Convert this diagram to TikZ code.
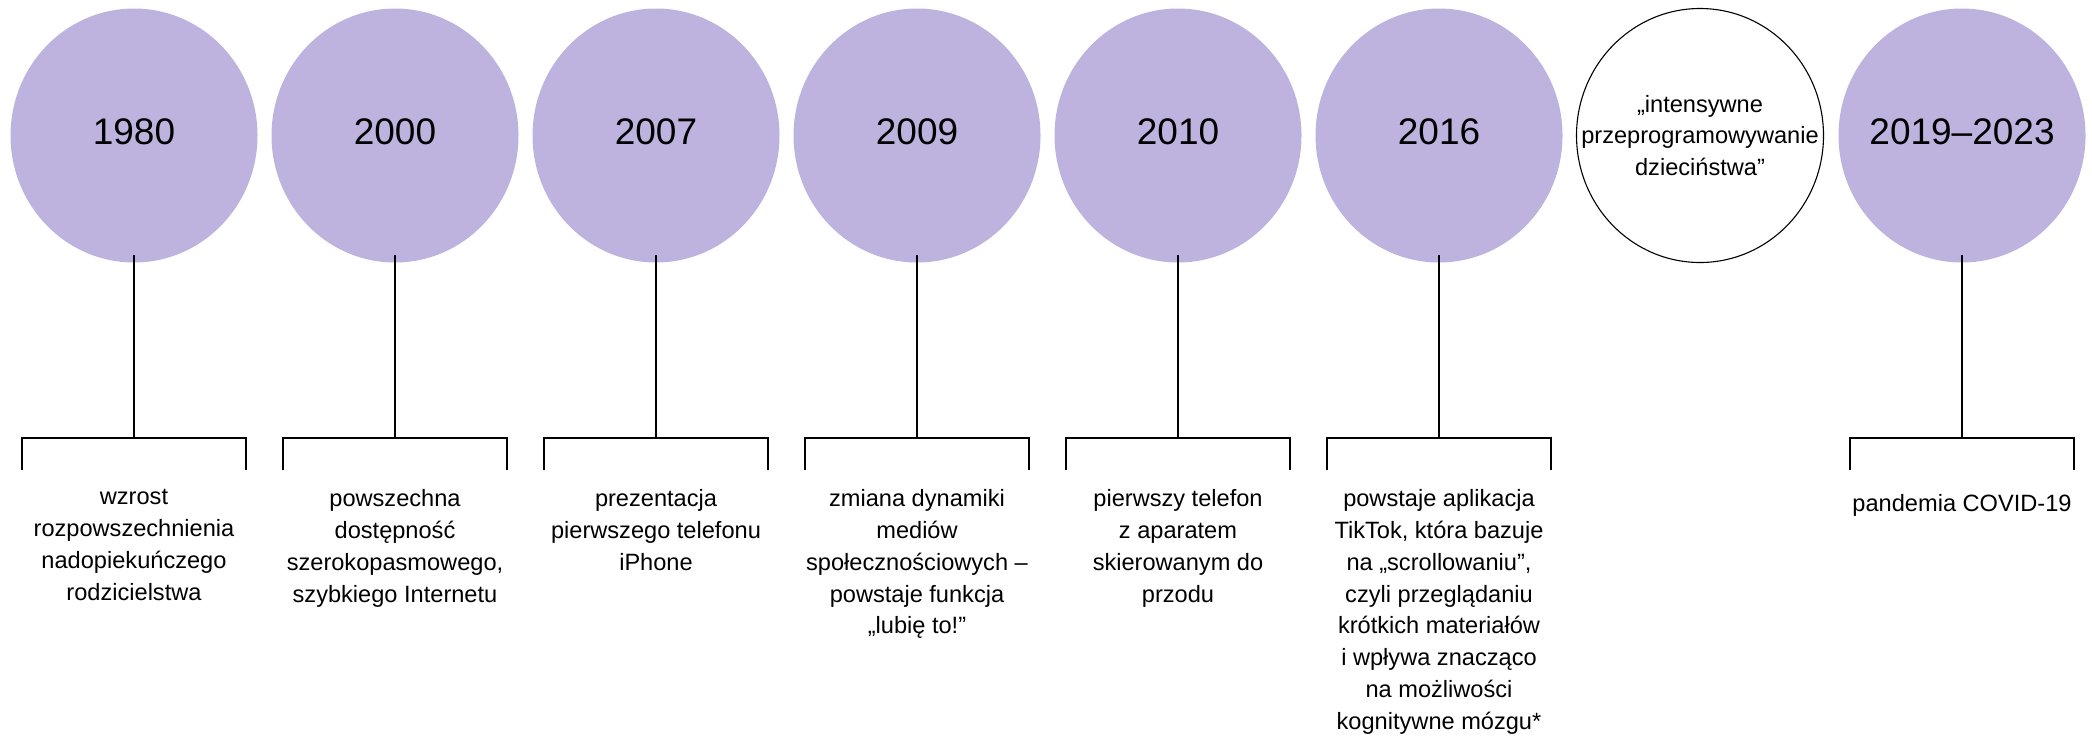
\documentclass[tikz,border=0pt]{standalone}
\usepackage{fontspec}
\setmainfont{Liberation Sans}
\usetikzlibrary{shapes.geometric}
\definecolor{lilac}{RGB}{190,179,223}

\begin{document}
\begin{tikzpicture}[x=.5pt,y=-.5pt,line width=.55pt]
\tikzstyle{every node}=[inner sep=0pt]
\tikzstyle{disc}=[ellipse,minimum width=123.5pt,minimum height=127pt,fill=lilac]
\tikzstyle{ring}=[ellipse,minimum width=123.5pt,minimum height=127pt,draw]
\tikzstyle{year}=[font=\fontsize{18.5}{22}\selectfont,yshift=2pt]
\tikzstyle{note}=[anchor=north,align=center,font=\fontsize{11.8}{15.9}\selectfont,execute at begin node=\strut]
\useasboundingbox (0,0) rectangle (2092,736);
% circles
\draw (134,135.5) node (c1) [disc] {};
\draw (395,135.5) node (c2) [disc] {};
\draw (656,135.5) node (c3) [disc] {};
\draw (917,135.5) node (c4) [disc] {};
\draw (1178,135.5) node (c5) [disc] {};
\draw (1439,135.5) node (c6) [disc] {};
\draw (1700,135.5) node (c7) [ring] {};
\draw (1962,135.5) node (c8) [disc] {};
\draw (c1) node (y1) [year] {1980};
\draw (c2) node (y2) [year] {2000};
\draw (c3) node (y3) [year] {2007};
\draw (c4) node (y4) [year] {2009};
\draw (c5) node (y5) [year] {2010};
\draw (c6) node (y6) [year] {2016};
\draw (c7) node (y7) [align=center,font=\fontsize{11.8}{15.9}\selectfont] {„intensywne\\przeprogramowywanie\\dzieciństwa”};
\draw (c8) node (y8) [year] {2019–2023};
% stems and brackets
\coordinate (k1) at (134,438);
\coordinate (k2) at (395,438);
\coordinate (k3) at (656,438);
\coordinate (k4) at (917,438);
\coordinate (k5) at (1178,438);
\coordinate (k6) at (1439,438);
\coordinate (k8) at (1962,438);
\draw ([yshift=4pt]c1.south) -- (k1);
\draw ([yshift=4pt]c2.south) -- (k2);
\draw ([yshift=4pt]c3.south) -- (k3);
\draw ([yshift=4pt]c4.south) -- (k4);
\draw ([yshift=4pt]c5.south) -- (k5);
\draw ([yshift=4pt]c6.south) -- (k6);
\draw ([yshift=4pt]c8.south) -- (k8);
\draw (k1) ++(-112,32) -- ++(0,-32) -- ++(224,0) -- ++(0,32);
\draw (k2) ++(-112,32) -- ++(0,-32) -- ++(224,0) -- ++(0,32);
\draw (k3) ++(-112,32) -- ++(0,-32) -- ++(224,0) -- ++(0,32);
\draw (k4) ++(-112,32) -- ++(0,-32) -- ++(224,0) -- ++(0,32);
\draw (k5) ++(-112,32) -- ++(0,-32) -- ++(224,0) -- ++(0,32);
\draw (k6) ++(-112,32) -- ++(0,-32) -- ++(224,0) -- ++(0,32);
\draw (k8) ++(-112,32) -- ++(0,-32) -- ++(224,0) -- ++(0,32);
% notes
\draw (134,489) node (t1) [note] {wzrost\\rozpowszechnienia\\nadopiekuńczego\\rodzicielstwa};
\draw (395,489) node (t2) [note] {powszechna\\dostępność\\szerokopasmowego,\\szybkiego Internetu};
\draw (656,489) node (t3) [note] {prezentacja\\pierwszego telefonu\\iPhone};
\draw (917,489) node (t4) [note] {zmiana dynamiki\\mediów\\społecznościowych –\\powstaje funkcja\\„lubię to!”};
\draw (1178,489) node (t5) [note] {pierwszy telefon\\z aparatem\\skierowanym do\\przodu};
\draw (1439,489) node (t6) [note] {powstaje aplikacja\\TikTok, która bazuje\\na „scrollowaniu”,\\czyli przeglądaniu\\krótkich materiałów\\i wpływa znacząco\\na możliwości\\kognitywne mózgu*};
\draw (1962,489) node (t8) [note] {pandemia COVID-19};
\end{tikzpicture}
\end{document}
